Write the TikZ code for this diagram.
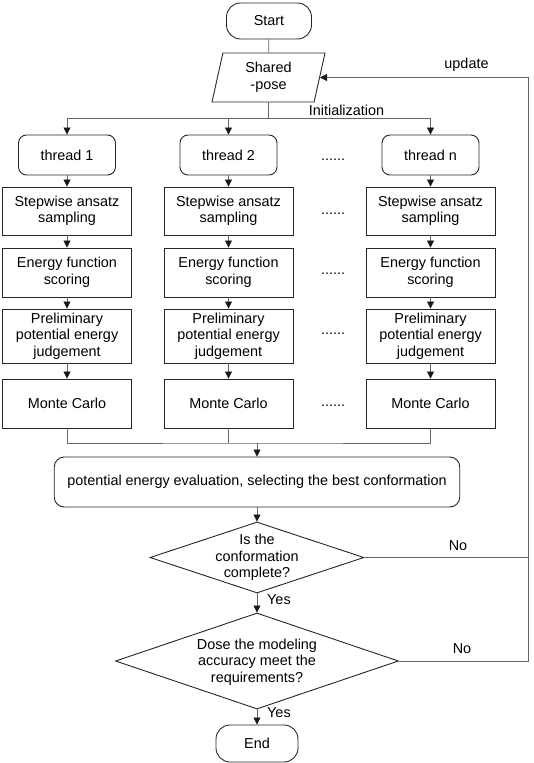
\documentclass[tikz,border=0pt]{standalone}
\usepackage{fontspec}
\setmainfont{Liberation Sans}
\usetikzlibrary{shapes.geometric,arrows.meta}
\begin{document}
\begin{tikzpicture}[x=1pt,y=-1pt,
  font=\fontsize{14.4}{16.5}\selectfont,
  shp/.style={draw=black!85, line width=0.9pt, align=center, inner sep=0pt},
  box/.style={shp, minimum width=129pt},
  thr/.style={shp, rounded corners=8pt, minimum width=97pt, minimum height=40pt},
  term/.style={shp, rounded corners=14pt, minimum height=36pt},
  para/.style={shp, trapezium, trapezium left angle=70, trapezium right angle=110,
    trapezium stretches body, minimum width=113pt, minimum height=49pt},
  dia/.style={shp, diamond},
  lbl/.style={inner sep=0pt, align=center},
  ln/.style={draw=black!60, line width=0.8pt},
  arr/.style={ln, -{Triangle[length=7pt,width=7pt,color=black!90]}}]
\useasboundingbox (0,0) rectangle (533,763);

% top
\node[term, minimum width=85pt] (start) at (269,21) {Start};
\node[para] (sp) at (268.5,77.5) {Shared\\-pose};
\coordinate (split) at (268.5,118);
\node[lbl] (init) at (346.5,110) {Initialization};
\node[lbl] (upd) at (466.5,65) {update};

% columns
\foreach \c/\x/\n in {1/67/1, 2/228.5/2, 3/430.5/n} {
  \node[thr] (t\c) at (\x,155) {thread \n};
  \node[box, minimum height=48pt] (s\c) at (\x,211) {Stepwise ansatz\\sampling};
  \node[box, minimum height=49pt] (e\c) at (\x,272.5) {Energy function\\scoring};
  \node[box, minimum height=54pt] (p\c) at (\x,336) {Preliminary\\potential energy\\judgement};
  \node[box, minimum height=49pt] (m\c) at (\x,403.5) {Monte Carlo};
  \draw[arr] (t\c) -- (s\c);
  \draw[arr] (s\c) -- (e\c);
  \draw[arr] (e\c) -- (p\c);
  \draw[arr] (p\c) -- (m\c);
}
\foreach \i/\y in {1/160, 2/214, 3/274, 4/334, 5/406} {
  \node[lbl, anchor=base] (dots\i) at (333,\y) {......};
}

\draw[ln] (start) -- (sp);
\draw[ln] (sp) -- (split);
\draw[arr] (split) -| (t1.north);
\draw[arr] (split) -| (t3.north);
\draw[arr] (t2.north |- split) -- (t2.north);

% merge
\coordinate (merge) at (257,443);
\draw[ln] (m1.south) |- (merge) -| (m3.south);
\draw[ln] (m2.south) -- (m2.south |- merge);

\node[shp, rounded corners=10pt, minimum width=405.5pt, minimum height=50pt] (pe) at (257,482)
  {potential energy evaluation, selecting the best conformation};
\draw[arr] (merge) -- (pe.north);

% decisions
\node[dia, minimum width=214pt, minimum height=71pt] (d1) at (257,557.5) {};
\node[lbl] (d1t) at (257,557.5) {Is the\\conformation\\complete?};
\node[dia, minimum width=283pt, minimum height=96pt] (d2) at (257,661) {};
\node[lbl] (d2t) at (257,662) {Dose the modeling\\accuracy meet the\\requirements?};
\node[term, minimum width=82pt, minimum height=37pt] (end) at (257,743.5) {End};

\draw[arr] (pe) -- (d1);
\draw[arr] (d1) -- (d2);
\draw[arr] (d2) -- (end);
\node[lbl, anchor=west] (y1) at (267,600) {Yes};
\node[lbl, anchor=west] (y2) at (267,713) {Yes};

\coordinate (rx) at (528,0);
\draw[ln] (d1.east) -- (d1.east -| rx);
\draw[arr] (d2.east) -- (d2.east -| rx) |- (sp.east);
\node[lbl] (no1) at (458,546) {No};
\node[lbl] (no2) at (462,649) {No};
\end{tikzpicture}
\end{document}
